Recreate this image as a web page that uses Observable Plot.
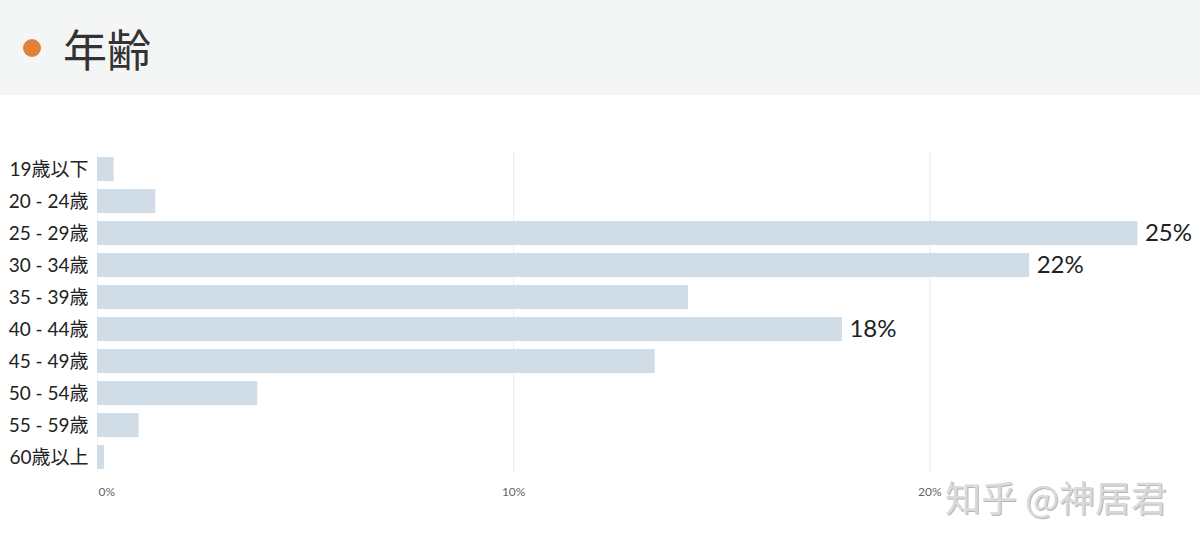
<!DOCTYPE html>
<html><head><meta charset="utf-8">
<script src="https://cdn.jsdelivr.net/npm/d3@7"></script>
<script src="https://cdn.jsdelivr.net/npm/@observablehq/plot@0.6"></script>
<style>
body{margin:0;width:1200px;height:544px;overflow:hidden;background:#fff;font-family:Lato,"Noto Sans CJK JP",sans-serif;position:relative}
#hdr{height:95px;background:#f4f6f5;position:relative}
#dot{position:absolute;left:23px;top:39px;width:18px;height:18px;border-radius:50%;background:#e0823a}
#ttl{position:absolute;left:63px;top:20px;font-size:44px;color:#333;font-family:"Noto Sans CJK JP",sans-serif;line-height:56px}
#wm{position:absolute;left:945px;top:470px;font-size:36px;color:#d4d4d4;font-family:"Noto Sans CJK SC",sans-serif;text-shadow:1px 1px 0 #aaa;opacity:.85}
</style></head>
<body>
<div id="hdr"><div id="dot"></div><div id="ttl">年齢</div></div>
<div id="chart"></div>
<div id="wm">知乎 @神居君</div>
<script>
const ageGroups = ["19歳以下","20 - 24歳","25 - 29歳","30 - 34歳","35 - 39歳","40 - 44歳","45 - 49歳","50 - 54歳","55 - 59歳","60歳以上"];
const shares = [0.4, 1.4, 25.0, 22.4, 14.2, 17.9, 13.4, 3.85, 1.0, 0.17];
const valueLabels = ["", "", "25%", "22%", "", "18%", "", "", "", ""];
const xTicks = [0, 10, 20];
const xTickLabels = ["0%", "10%", "20%"];

const rows = ageGroups.map((g, i) => ({group: g, share: shares[i], label: valueLabels[i]}));
const ticks = xTicks.map((t, i) => ({t, label: xTickLabels[i]}));

const plot = Plot.plot({
  width: 1200, height: 449,
  marginLeft: 97, marginRight: 21, marginTop: 57, marginBottom: 71,
  style: {fontFamily: 'Lato,"Noto Sans CJK JP",sans-serif', background: "transparent"},
  x: {domain: [0, 26], axis: null},
  y: {domain: ageGroups, paddingInner: 0.25, paddingOuter: 0.125, label: null},
  marks: [
    Plot.ruleX([0], {stroke: "#f2f2f2"}),
    Plot.ruleX([10, 20], {stroke: "#ececec"}),
    Plot.ruleY([0], {frameAnchor: "bottom", stroke: "#f4f4f4"}),
    Plot.barX(rows, {y: "group", x: "share", fill: "#d0dce6"}),
    Plot.text(rows, {y: "group", x: "share", text: "label", textAnchor: "start", dx: 7, fontSize: 24, fill: "#222"}),
    Plot.axisY({tickSize: 0, tickPadding: 9, fontSize: 19, color: "#222", label: null}),
    Plot.text(ticks.filter(d => d.t === 0), {x: "t", text: "label", frameAnchor: "bottom", dy: 22, dx: 1, textAnchor: "start", fontSize: 12, fill: "#666"}),
    Plot.text(ticks.filter(d => d.t !== 0), {x: "t", text: "label", frameAnchor: "bottom", dy: 22, fontSize: 12, fill: "#666"})
  ]
});
document.getElementById("chart").appendChild(plot);
</script>
</body></html>
